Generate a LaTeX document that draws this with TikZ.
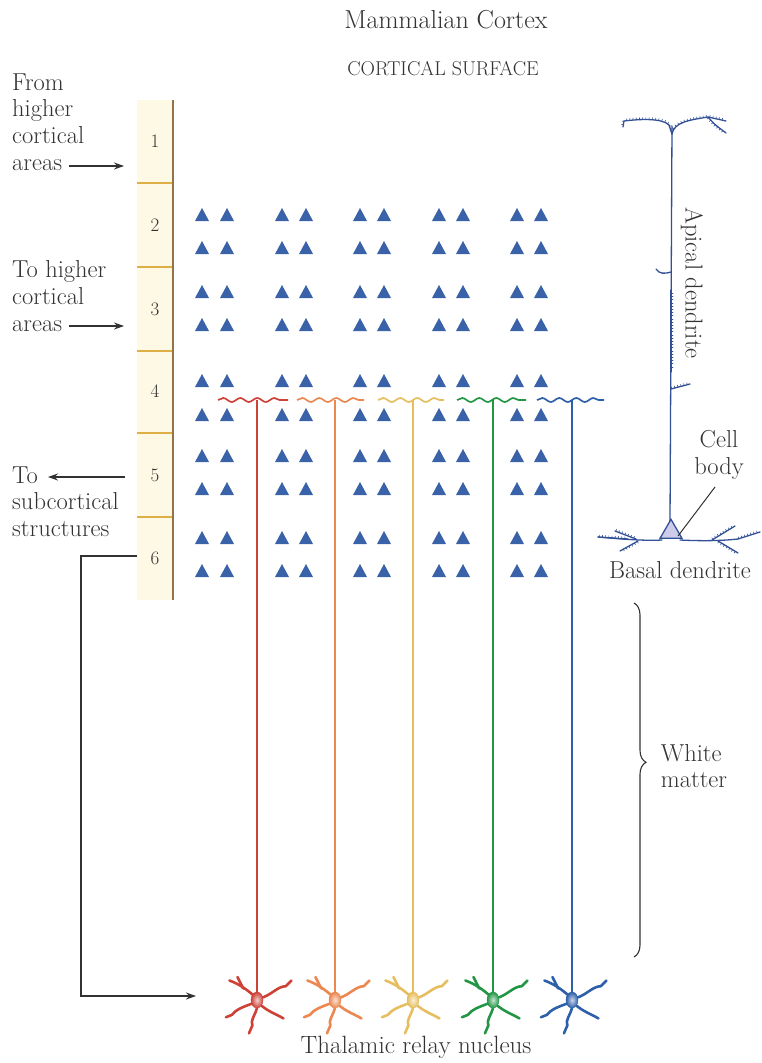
\documentclass[tikz,border=0pt]{standalone}
\usetikzlibrary{arrows.meta,decorations.pathmorphing,decorations.pathreplacing,decorations.markings,shapes.geometric}
\definecolor{ink}{RGB}{50,50,50}
\definecolor{cRed}{RGB}{205,65,55}
\definecolor{cOrange}{RGB}{236,135,80}
\definecolor{cYellow}{RGB}{230,190,95}
\definecolor{cGreen}{RGB}{35,150,70}
\definecolor{cBlue}{RGB}{45,95,170}
\definecolor{triBlue}{RGB}{58,98,168}
\definecolor{pyrInk}{RGB}{50,80,150}
\definecolor{somaFill}{RGB}{205,205,235}
\definecolor{colFill}{RGB}{254,249,228}
\definecolor{colRule}{RGB}{222,175,70}
\definecolor{colEdge}{RGB}{150,115,70}
\tikzset{
  lbl/.style={font=\fontsize{24.5}{26.7}\selectfont, text=ink, inner sep=0pt, align=left},
  layernum/.style={font=\fontsize{19}{22}\selectfont, text=ink, inner sep=1pt},
  pointer/.style={draw=ink, line width=1.3pt, -{Stealth[length=10pt,width=7pt]}},
  tri/.style={fill=triBlue},
  wave/.style={line width=1.7pt, decorate, decoration={snake, amplitude=2pt, segment length=17pt}},
  axon/.style={line width=1.6pt},
  soma/.style={ellipse, minimum width=12pt, minimum height=16pt, inner sep=0pt, shading=radial},
  pyr/.style={draw=pyrInk, line width=1.3pt, line cap=round},
  spines/.style={postaction={decorate, decoration={markings,
      mark=between positions 0.04 and 0.96 step 3.2pt with {\draw[pyrInk, line width=0.6pt] (0,0) -- (0,#1);}}}},
  stellate/.pic={
    \begin{scope}[line width=2.6pt, line cap=round, line join=round]
      \draw (-3,-4) .. controls (-10,-10) and (-16,-14) .. (-24,-17);
      \draw (-12,-10) .. controls (-14,-14) .. (-17,-20);
      \draw (-4,3) .. controls (-12,6) and (-18,8) .. (-22,13) -- (-27,15);
      \draw (4,-2) .. controls (12,-4) and (18,-12) .. (25,-12) -- (30,-17);
      \draw (4,5) .. controls (10,10) and (16,12) .. (23,16);
      \draw (0,7) .. controls (-2,14) and (-6,18) .. (-4,22) -- (-7,29);
    \end{scope}
  }
}
\begin{document}
\begin{tikzpicture}[x=1pt,y=-1pt]
\useasboundingbox (0,0) rectangle (761,1063);

% headings
\node[font=\fontsize{26}{30}\selectfont, text=ink] (title) at (446,20) {Mammalian Cortex};
\node[font=\fontsize{20}{24}\selectfont, text=ink] (surface) at (443,69) {CORTICAL SURFACE};

% layer column
\fill[colFill] (137,100) rectangle (173,600);
\foreach \y in {183,267,351,433,517}
  \draw[colRule, line width=1.4pt] (137,\y) -- (173,\y);
\draw[colEdge, line width=1.2pt] (173,100) -- (173,600);
\foreach \n/\y in {1/141,2/225,3/309,4/391,5/475,6/558}
  \node[layernum] (n\n) at (155,\y) {\n};

% pyramidal cell bodies in layers 2--6
\foreach \y in {215,248,292,325,381,415,456,489,538,571}
  \foreach \x in {202,227,282,306,360,384,439,463,517,541}
    \fill[tri] (\x-7,\y+6) -- (\x,\y-7) -- (\x+7,\y+6) -- cycle;

% side labels
\node[lbl, anchor=north west] (fromHigher) at (12,73.3) {From\\higher\\cortical\\areas};
\coordinate (inA) at (69,166);
\coordinate (inB) at (124,166);
\draw[pointer] (inA) -- (inB);

\node[lbl, anchor=north west] (toHigher) at (12,260.6) {To higher\\cortical\\areas};
\coordinate (outA) at (69,326);
\coordinate (outB) at (124,326);
\draw[pointer] (outA) -- (outB);

\node[lbl, anchor=north west] (toSub) at (12,466.3) {To\\subcortical\\structures};
\coordinate (subA) at (125,477);
\coordinate (subB) at (48,477);
\draw[pointer] (subA) -- (subB);

% thalamocortical afferents
\foreach \i/\x/\c/\a/\b in {1/257/cRed/218/288, 2/335/cOrange/297/364, 3/413/cYellow/378/444, 4/493/cGreen/457/526, 5/572/cBlue/537/604}{
  \coordinate (w\i) at (\x,400);
  \draw[wave, \c] (\a,400) -- (\b,400);
  \pic[\c, scale=1.15] at (\x,1000) {stellate};
  \node[soma, draw=\c, inner color=\c!25!white, outer color=\c] (t\i) at (\x,1000) {};
  \draw[axon, \c] (w\i) -- (t\i);
}
\node[lbl, font=\fontsize{25}{28}\selectfont] (thal) at (416,1047) {Thalamic relay nucleus};

% feedback from layer 6 to the thalamus
\coordinate (l6) at (137,556);
\coordinate (thIn) at (196,996);
\draw[pointer] (l6) -- (81,556) |- (thIn);

% single pyramidal neuron
\draw[pyr] (672,126) -- (670,522);
\draw[pyr, spines=2pt] (623,127) -- (624,121) .. controls (640,119) and (662,118) .. (669,125) -- (672,134);
\draw[pyr, spines=2pt] (672,134) .. controls (674,122) and (690,120) .. (708,117) -- (726,121);
\draw[pyr, spines=-2pt] (708,117) .. controls (714,124) .. (726,133);
\draw[pyr] (671,272) .. controls (665,274) and (659,274) .. (656,269);
\draw[pyr, spines=2pt] (671,290) -- (671,372);
\draw[pyr, spines=2pt] (671,389) -- (690,384);
% basal dendrites
\draw[pyr] (598,537) .. controls (620,539) and (645,541) .. (662,540);
\draw[pyr, spines=2pt] (598,537) -- (628,539);
\draw[pyr, spines=2pt] (615,531) -- (636,539);
\draw[pyr, spines=2pt] (638,541) -- (620,551);
\draw[pyr] (680,540) .. controls (700,541) and (720,541) .. (738,539);
\draw[pyr, spines=2pt] (738,539) -- (760,532);
\draw[pyr, spines=2pt] (712,540) -- (735,526);
\draw[pyr, spines=-2pt] (718,541) -- (738,553);
\node[draw=pyrInk, fill=somaFill, line width=1.3pt, isosceles triangle, isosceles triangle apex angle=60, shape border rotate=90, minimum width=20pt, minimum height=19pt, inner sep=0pt] (cellbody) at (671,532) {};

\node[lbl, rotate=-90] (apical) at (692,283) {Apical dendrite};
\node[lbl, align=center] (cellLbl) at (719,455) {Cell\\body};
\coordinate (cbTip) at (678,536);
\draw[ink, line width=1pt] (715,487) -- (cbTip);
\node[lbl] (basal) at (680,570) {Basal dendrite};

% white matter brace
\draw[ink, line width=1.1pt, decorate, decoration={brace, amplitude=12pt, aspect=0.45}] (634,603) -- (634,957);
\node[lbl] (white) at (694,766) {White\\matter};
\end{tikzpicture}
\end{document}
